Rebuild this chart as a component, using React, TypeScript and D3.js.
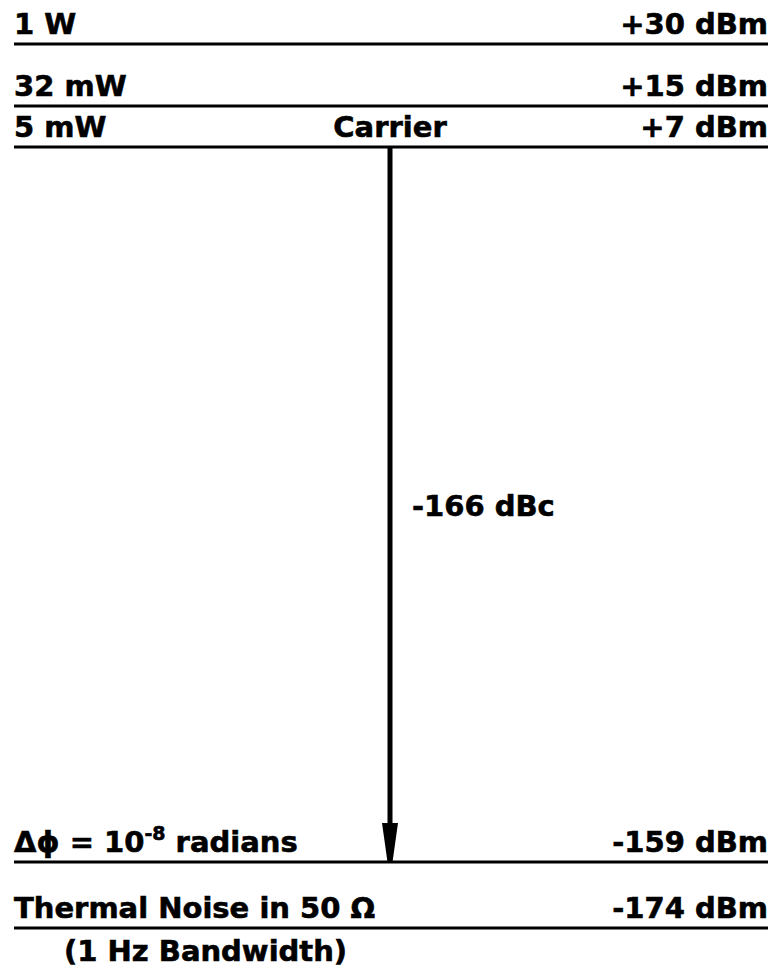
import * as d3 from "d3";

// power levels drawn as horizontal rules, top to bottom
const levelDbm = [30, 15, 7, -159, -174];
const leftLabels = ["1 W", "32 mW", "5 mW", "", "Thermal Noise in 50 Ω"];
const rightLabels = ["+30 dBm", "+15 dBm", "+7 dBm", "-159 dBm", "-174 dBm"];
const carrierLabel = "Carrier";
const carrierDbm = 7;
const sidebandDbm = -159;
const arrowLabel = "-166 dBc";
const phaseBase = "Δϕ = 10";
const phaseExp = "-8";
const phaseUnit = " radians";
const noteLabel = "(1 Hz Bandwidth)";

const W = 772;
const H = 972;
const FONT = "'DejaVu Sans', 'Liberation Sans', Arial, sans-serif";

export default function App() {
  // schematic (not to scale): piecewise mapping of dBm to rows
  const y = d3.scaleLinear().domain(levelDbm).range([44, 106, 147, 862, 928]);
  const x = d3.scaleLinear().domain([0, 1]).range([14, 768]);
  const xc = x(0.5) - 1;

  const headTop = y(sidebandDbm) - 39;
  const head = d3.line()([
    [xc - 8, headTop],
    [xc + 8, headTop],
    [xc + 2.5, y(sidebandDbm)],
    [xc - 2.5, y(sidebandDbm)],
  ]) + "Z";

  const text = {
    fontFamily: FONT,
    fontWeight: 700,
    fontSize: 29,
    fill: "#000",
    stroke: "#000",
    strokeWidth: 0.6,
  } as const;

  return (
    <svg width={W} height={H} style={{ position: "absolute", left: 0, top: 0, background: "#fff" }}>
      {levelDbm.map((d, i) => (
        <g key={d}>
          <line x1={x(0)} x2={x(1)} y1={y(d)} y2={y(d)} stroke="#000" strokeWidth={3} />
          {leftLabels[i] && (
            <text x={x(0)} y={y(d) - 10} {...text}>
              {leftLabels[i]}
            </text>
          )}
          <text x={x(1)} y={y(d) - 10} textAnchor="end" {...text}>
            {rightLabels[i]}
          </text>
        </g>
      ))}

      <text x={xc} y={y(carrierDbm) - 10} textAnchor="middle" {...text}>
        {carrierLabel}
      </text>

      <text x={x(0)} y={y(sidebandDbm) - 10} {...text}>
        {phaseBase}
        <tspan fontSize={19} dy={-12}>{phaseExp}</tspan>
        <tspan dy={12}>{phaseUnit}</tspan>
      </text>

      <line x1={xc} x2={xc} y1={y(carrierDbm)} y2={headTop + 2} stroke="#000" strokeWidth={5} />
      <path d={head} fill="#000" />

      <text x={xc + 22} y={516} {...text}>
        {arrowLabel}
      </text>

      <text x={x(0) + 50} y={y(-174) + 33} {...text}>
        {noteLabel}
      </text>
    </svg>
  );
}
